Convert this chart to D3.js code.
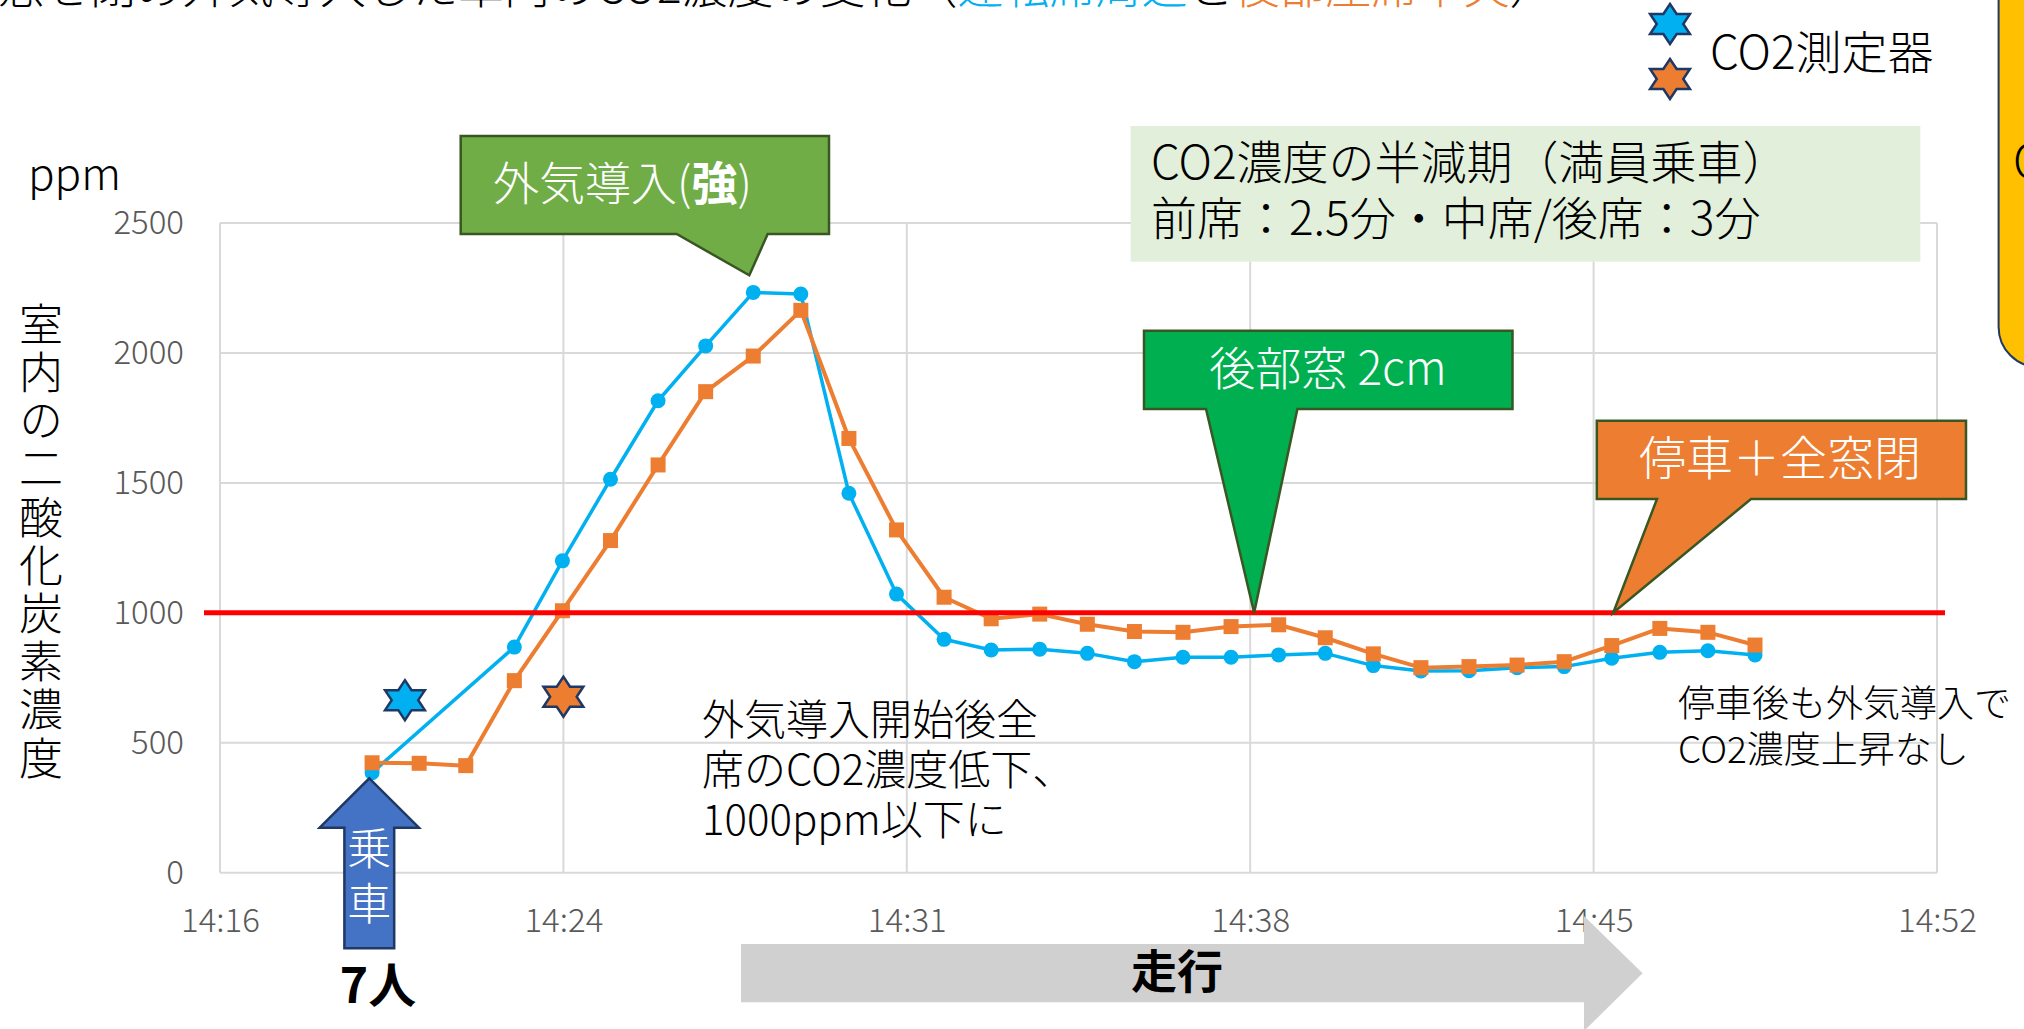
<!DOCTYPE html>
<html>
<head>
<meta charset="utf-8">
<script src="https://cdn.jsdelivr.net/npm/d3@7"></script>
<style>
  body { margin: 0; background: #fff; }
  svg { display: block; font-family: "Noto Sans CJK JP", "Noto Sans", sans-serif; font-weight: 300; }
</style>
</head>
<body>
<svg id="co2-chart" width="2024" height="1029"></svg>
<script>
// minutes after 14:16 for each reading (about one reading per minute)
const minutesAfter1416 = [3.10, 4.06, 5.01, 6.00, 6.98, 7.96, 8.93, 9.90, 10.87, 11.84,
    12.82, 13.79, 14.76, 15.72, 16.71, 17.68, 18.64, 19.63, 20.61, 21.58,
    22.53, 23.51, 24.48, 25.46, 26.44, 27.40, 28.37, 29.35, 30.33, 31.29];

// blue sensor (no reading at 2nd and 3rd sample)
const blueSensor = [385, null, null, 868, 1200, 1514, 1816, 2027, 2233, 2227,
    1460, 1072, 898, 857, 860, 844, 812, 829, 829, 838,
    844, 797, 776, 777, 789, 793, 825, 848, 854, 838];

// orange sensor
const orangeSensor = [423, 421, 412, 739, 1008, 1278, 1569, 1851, 1988, 2164,
    1671, 1319, 1060, 977, 995, 956, 928, 925, 947, 954,
    904, 842, 789, 793, 799, 812, 874, 940, 925, 876];

const yTicks = [0, 500, 1000, 1500, 2000, 2500];
const xTickMinutes = [0, 7, 14, 21, 28, 35];
const xTickLabels = ["14:16", "14:24", "14:31", "14:38", "14:45", "14:52"];
const limitPpm = 1000;

// where the two sensor stars sit on the chart (minutes, ppm)
const sensorStars = [
    { minute: 3.77, ppm: 664, color: "#00B0F0" },
    { minute: 7.0, ppm: 677, color: "#ED7D31" }
];

const yTitle = "室内の二酸化炭素濃度";
const noteLeft = ["外気導入開始後全", "席のCO2濃度低下、", "1000ppm以下に"];
const noteRight = ["停車後も外気導入で", "CO2濃度上昇なし"];
const halfLifeLines = ["CO2濃度の半減期（満員乗車）", "前席：2.5分・中席/後席：3分"];

const svg = d3.select("#co2-chart");
const width = +svg.attr("width");
const height = +svg.attr("height");

svg.append("rect").attr("width", width).attr("height", height).attr("fill", "#fff");

const x = d3.scaleLinear().domain([0, 35]).range([220, 1937]);
const y = d3.scaleLinear().domain([0, 2500]).range([872.7, 223]);

function hexagram(cx, cy, rx, ry) {
    const pts = d3.range(12).map(k => {
        const a = (-90 + k * 30) * Math.PI / 180;
        const r = k % 2 === 0 ? 1 : 1 / Math.sqrt(3);
        return [cx + rx * r * Math.cos(a), cy + ry * r * Math.sin(a)];
    });
    return "M" + pts.map(p => p.join(",")).join("L") + "Z";
}

// title (cut off at the top edge)
const title = svg.append("text")
    .attr("x", -2)
    .attr("y", 3)
    .attr("font-size", 46);
title.append("tspan").attr("fill", "#000").text("窓を閉め外気導入した車内のCO2濃度の変化（");
title.append("tspan").attr("fill", "#00B0F0").text("運転席周辺");
title.append("tspan").attr("fill", "#000").text("と");
title.append("tspan").attr("fill", "#ED7D31").text("後部座席中央");
title.append("tspan").attr("fill", "#000").text("）");

// yellow note box at the right edge
svg.append("path")
    .attr("d", "M1998.6,-10 V327 A40,40 0 0 0 2038.6,367 H2060 V-10 Z")
    .attr("fill", "#FFC000")
    .attr("stroke", "#203864")
    .attr("stroke-width", 2);
svg.append("text")
    .attr("x", 2013)
    .attr("y", 178)
    .attr("font-size", 46)
    .attr("fill", "#000")
    .text("C");

// gridlines
svg.append("g")
    .selectAll("line")
    .data(yTicks)
    .join("line")
    .attr("x1", x(0))
    .attr("x2", x(35))
    .attr("y1", d => y(d))
    .attr("y2", d => y(d))
    .attr("stroke", "#D9D9D9")
    .attr("stroke-width", 2);

svg.append("g")
    .selectAll("line")
    .data(xTickMinutes)
    .join("line")
    .attr("x1", d => x(d))
    .attr("x2", d => x(d))
    .attr("y1", y(2500))
    .attr("y2", y(0))
    .attr("stroke", "#D9D9D9")
    .attr("stroke-width", 2);

// axes
const yAxis = svg.append("g")
    .attr("transform", `translate(${x(0)},0)`)
    .call(d3.axisLeft(y).tickValues(yTicks).tickSize(0).tickPadding(36).tickFormat(d3.format("d")));
yAxis.select(".domain").remove();
yAxis.selectAll("text")
    .attr("font-size", 33)
    .attr("font-family", "'Noto Sans CJK JP', sans-serif")
    .attr("fill", "#595959");

const xAxis = svg.append("g")
    .attr("transform", `translate(0,${y(0)})`)
    .call(d3.axisBottom(x).tickValues(xTickMinutes).tickSize(0).tickPadding(36)
        .tickFormat((d, i) => xTickLabels[i]));
xAxis.select(".domain").remove();
xAxis.selectAll("text")
    .attr("font-size", 33)
    .attr("font-family", "'Noto Sans CJK JP', sans-serif")
    .attr("fill", "#595959");

svg.append("text")
    .attr("x", 28)
    .attr("y", 190)
    .attr("font-size", 44)
    .attr("fill", "#000")
    .text("ppm");

// vertical axis title, upright characters
svg.append("text")
    .attr("x", 41)
    .attr("y", 302)
    .attr("font-size", 44)
    .attr("fill", "#000")
    .style("writing-mode", "vertical-rl")
    .style("text-orientation", "upright")
    .style("letter-spacing", "4.2px")
    .text(yTitle);

// series
const blueRows = minutesAfter1416
    .map((m, i) => ({ minute: m, ppm: blueSensor[i] }))
    .filter(d => d.ppm !== null);
const orangeRows = minutesAfter1416.map((m, i) => ({ minute: m, ppm: orangeSensor[i] }));

const line = d3.line().x(d => x(d.minute)).y(d => y(d.ppm));

svg.append("path")
    .datum(blueRows)
    .attr("d", line)
    .attr("fill", "none")
    .attr("stroke", "#00B0F0")
    .attr("stroke-width", 3.5)
    .attr("stroke-linejoin", "round");

svg.append("g")
    .selectAll("circle")
    .data(blueRows)
    .join("circle")
    .attr("cx", d => x(d.minute))
    .attr("cy", d => y(d.ppm))
    .attr("r", 7.5)
    .attr("fill", "#00B0F0");

svg.append("path")
    .datum(orangeRows)
    .attr("d", line)
    .attr("fill", "none")
    .attr("stroke", "#ED7D31")
    .attr("stroke-width", 4)
    .attr("stroke-linejoin", "round");

svg.append("g")
    .selectAll("rect")
    .data(orangeRows)
    .join("rect")
    .attr("x", d => x(d.minute) - 7.5)
    .attr("y", d => y(d.ppm) - 7.5)
    .attr("width", 15)
    .attr("height", 15)
    .attr("fill", "#ED7D31");

// 1000 ppm line
svg.append("line")
    .attr("x1", 204)
    .attr("x2", 1945)
    .attr("y1", y(limitPpm))
    .attr("y2", y(limitPpm))
    .attr("stroke", "#FF0000")
    .attr("stroke-width", 5);

// sensor stars
svg.append("g")
    .selectAll("path")
    .data(sensorStars)
    .join("path")
    .attr("d", d => hexagram(x(d.minute), y(d.ppm), 23, 20))
    .attr("fill", d => d.color)
    .attr("stroke", "#1F3864")
    .attr("stroke-width", 2.5)
    .attr("stroke-linejoin", "miter");

// legend
svg.append("path").attr("d", hexagram(1670, 24, 23, 20))
    .attr("fill", "#00B0F0").attr("stroke", "#1F3864").attr("stroke-width", 2.5);
svg.append("path").attr("d", hexagram(1670, 79, 23, 20))
    .attr("fill", "#ED7D31").attr("stroke", "#1F3864").attr("stroke-width", 2.5);
svg.append("text")
    .attr("x", 1710)
    .attr("y", 69)
    .attr("font-size", 46)
    .attr("fill", "#000")
    .text("CO2測定器");

// half-life note
svg.append("rect")
    .attr("x", 1130.6)
    .attr("y", 126)
    .attr("width", 789.7)
    .attr("height", 135.7)
    .attr("fill", "#E2EFDA");
svg.append("g")
    .selectAll("text")
    .data(halfLifeLines)
    .join("text")
    .attr("x", 1151)
    .attr("y", (d, i) => 179 + i * 56)
    .attr("font-size", 46)
    .attr("fill", "#000")
    .text(d => d);

// callouts
svg.append("path")
    .attr("d", "M460.7,136 H829 V234 H767.7 L749.3,275.3 L676.7,234 H460.7 Z")
    .attr("fill", "#70AD47")
    .attr("stroke", "#385723")
    .attr("stroke-width", 2.5);
const strong = svg.append("text")
    .attr("x", 493)
    .attr("y", 200)
    .attr("font-size", 46)
    .attr("fill", "#fff");
strong.append("tspan").text("外気導入(");
strong.append("tspan").attr("font-weight", "bold").text("強");
strong.append("tspan").text(")");

svg.append("path")
    .attr("d", `M1144,330.7 H1512.5 V409 H1297.4 L${x(21.08)},${y(limitPpm)} L1206,409 H1144 Z`)
    .attr("fill", "#00B050")
    .attr("stroke", "#385723")
    .attr("stroke-width", 2.5);
svg.append("text")
    .attr("x", 1328)
    .attr("y", 385)
    .attr("text-anchor", "middle")
    .attr("font-size", 46)
    .attr("fill", "#fff")
    .text("後部窓 2cm");

svg.append("path")
    .attr("d", `M1596.8,420.7 H1966 V499 H1751 L${x(28.4)},${y(limitPpm)} L1657,499 H1596.8 Z`)
    .attr("fill", "#ED7D31")
    .attr("stroke", "#385723")
    .attr("stroke-width", 2.5);
svg.append("text")
    .attr("x", 1780)
    .attr("y", 475)
    .attr("text-anchor", "middle")
    .attr("font-size", 47)
    .attr("fill", "#fff")
    .text("停車＋全窓閉");

// notes
svg.append("g")
    .selectAll("text")
    .data(noteLeft)
    .join("text")
    .attr("x", 702)
    .attr("y", (d, i) => 735 + i * 50)
    .attr("font-size", 42)
    .attr("fill", "#000")
    .text(d => d);

svg.append("g")
    .selectAll("text")
    .data(noteRight)
    .join("text")
    .attr("x", 1678)
    .attr("y", (d, i) => 717 + i * 46)
    .attr("font-size", 37)
    .attr("fill", "#000")
    .text(d => d);

// boarding arrow
const ax = 369.3;
svg.append("path")
    .attr("d", `M${ax},778.3 L${ax + 49.7},827.7 H${ax + 24.9} V948.3 H${ax - 24.9} V827.7 H${ax - 49.7} Z`)
    .attr("fill", "#4472C4")
    .attr("stroke", "#1F3864")
    .attr("stroke-width", 2.5);
svg.append("g")
    .selectAll("text")
    .data(["乗", "車"])
    .join("text")
    .attr("x", ax)
    .attr("y", (d, i) => 865 + i * 55)
    .attr("text-anchor", "middle")
    .attr("font-size", 44)
    .attr("fill", "#fff")
    .text(d => d);
svg.append("text")
    .attr("x", 378)
    .attr("y", 1003)
    .attr("text-anchor", "middle")
    .attr("font-size", 48)
    .attr("font-weight", "bold")
    .attr("fill", "#000")
    .text("7人");

// driving arrow
svg.append("path")
    .attr("d", "M741,944 H1584 V916 L1642.6,973.3 L1584,1031 V1002.3 H741 Z")
    .attr("fill", "#D0D0D0");
svg.append("text")
    .attr("x", 1177)
    .attr("y", 988)
    .attr("text-anchor", "middle")
    .attr("font-size", 46)
    .attr("font-weight", "bold")
    .attr("fill", "#000")
    .text("走行");
</script>
</body>
</html>
